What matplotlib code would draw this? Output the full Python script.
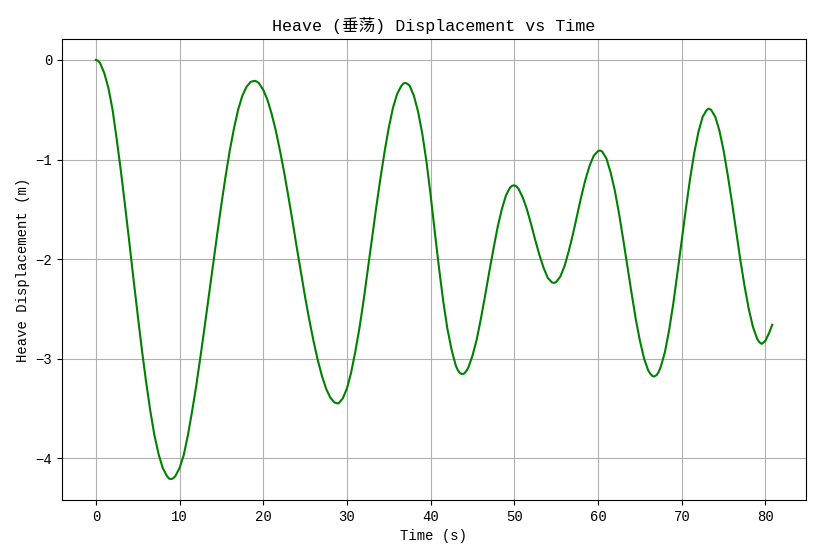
import numpy as np
import matplotlib
matplotlib.use("Agg")
import matplotlib.pyplot as plt

plt.rcParams['font.family'] = ['Liberation Mono', 'Noto Sans CJK SC', 'DejaVu Sans']

# time samples (s), every 0.5 s plus the last sample
time_s = np.append(np.arange(0, 81, 0.5), 80.8)

# heave displacement (m)
heave_m = [
    0.00, -0.03, -0.13, -0.28, -0.50, -0.80, -1.12, -1.47, -1.83, -2.20,
    -2.56, -2.91, -3.23, -3.52, -3.77, -3.96, -4.10, -4.18, -4.21, -4.18,
    -4.10, -3.97, -3.77, -3.53, -3.27, -2.98, -2.68, -2.37, -2.06, -1.75,
    -1.45, -1.17, -0.91, -0.69, -0.50, -0.36, -0.27, -0.22, -0.21, -0.235,
    -0.30, -0.40, -0.54, -0.71, -0.91, -1.13, -1.37, -1.62, -1.88, -2.13,
    -2.38, -2.61, -2.82, -3.01, -3.17, -3.30, -3.39, -3.44, -3.45, -3.40,
    -3.30, -3.14, -2.93, -2.69, -2.41, -2.10, -1.79, -1.48, -1.19, -0.92,
    -0.68, -0.48, -0.34, -0.26, -0.23, -0.26, -0.36, -0.52, -0.74, -1.02,
    -1.36, -1.73, -2.09, -2.42, -2.70, -2.91, -3.07, -3.145, -3.15, -3.09,
    -2.97, -2.81, -2.60, -2.37, -2.13, -1.90, -1.68, -1.50, -1.36, -1.28,
    -1.26, -1.295, -1.38, -1.50, -1.65, -1.81, -1.96, -2.09, -2.19, -2.235,
    -2.23, -2.175, -2.07, -1.92, -1.75, -1.56, -1.37, -1.20, -1.06, -0.96,
    -0.915, -0.92, -0.99, -1.13, -1.31, -1.54, -1.80, -2.07, -2.34, -2.60,
    -2.82, -3.00, -3.12, -3.175, -3.165, -3.08, -2.93, -2.71, -2.44, -2.13,
    -1.81, -1.49, -1.19, -0.93, -0.72, -0.57, -0.50, -0.50, -0.57, -0.71,
    -0.91, -1.16, -1.43, -1.72, -2.01, -2.27, -2.50, -2.68, -2.80, -2.85,
    -2.82, -2.73, -2.66,
]

# extra samples around the peaks and troughs
extra_t = [0.25, 8.75, 8.97, 9.25, 18.75, 18.94, 19.25, 28.88, 36.75, 36.97,
           37.25, 43.25, 43.76, 44.25, 49.75, 49.92, 50.25, 54.72, 60.2, 60.25,
           66.25, 66.7, 67.25, 73.23, 79.25, 79.6]
extra_v = [-0.008, -4.205, -4.21, -4.202, -0.214, -0.21, -0.218, -3.45, -0.236, -0.23,
           -0.242, -3.116, -3.156, -3.127, -1.264, -1.26, -1.271, -2.24, -0.91, -0.91,
           -3.153, -3.18, -3.133, -0.49, -2.833, -2.85]

t_all = np.concatenate([time_s, extra_t])
v_all = np.concatenate([heave_m, extra_v])
order = np.argsort(t_all)

fig = plt.figure(figsize=(8.17, 5.58), dpi=100)
ax = fig.add_axes([0.0759, 0.1039, 0.9106, 0.8262])

ax.plot(t_all[order], v_all[order], color="green", linewidth=1.5)
ax.set_title("Heave (垂荡) Displacement vs Time", fontsize=12)
ax.set_xlabel("Time (s)", fontsize=10)
ax.set_ylabel("Heave Displacement (m)", fontsize=10)
ax.set_xticks(np.arange(0, 81, 10))
ax.set_yticks([0, -1, -2, -3, -4])
ax.tick_params(labelsize=10)
ax.grid(True)

fig.savefig("out.png", dpi=100)
